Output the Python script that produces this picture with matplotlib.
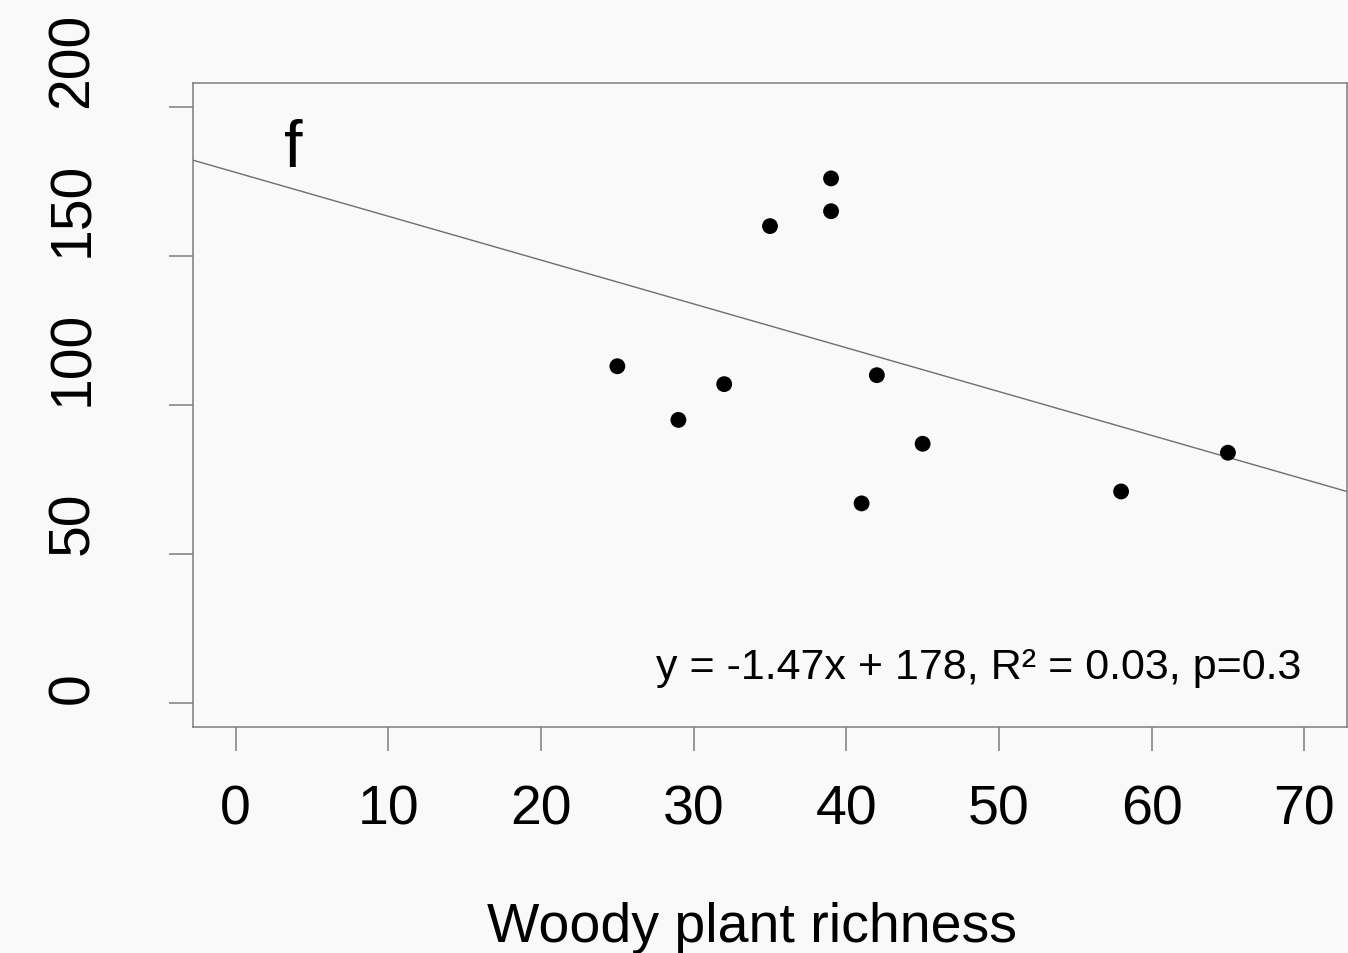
import matplotlib
matplotlib.use("Agg")
import matplotlib.pyplot as plt

# Site data: woody plant richness vs. response
richness = [25, 29, 32, 35, 39, 39, 41, 42, 45, 58, 65]
response = [113, 95, 107, 160, 176, 165, 67, 110, 87, 71, 84]

# Fitted linear model (as reported in the annotation)
slope = -1.47
intercept = 178
r_squared = 0.03
p_value = 0.3

x_ticks = [0, 10, 20, 30, 40, 50, 60, 70]
y_ticks = [0, 50, 100, 150, 200]
panel_label = "f"
x_label = "Woody plant richness"

plt.rcParams["font.family"] = ["Liberation Sans", "DejaVu Sans"]

W, H = 1348, 954
bg = "#f9f9f9"
frame = "#7d7d7d"

fig = plt.figure(figsize=(W / 100, H / 100), dpi=100, facecolor=bg)
ax = fig.add_axes([193 / W, (H - 728) / H, 1154 / W, 644 / H], facecolor=bg)

ax.set_xlim(-2.8, 72.8)
ax.set_ylim(-8, 208)

ax.scatter(richness, response, s=130, color="black", edgecolors="none", zorder=3)
ax.axline((0, intercept), slope=slope, color="#6e6e6e", linewidth=1.0, zorder=2)

for sp in ax.spines.values():
    sp.set_color(frame)
    sp.set_linewidth(1.1)

ax.set_xticks(x_ticks)
ax.set_xticklabels([str(v) for v in x_ticks])
ax.set_yticks(y_ticks)
ax.set_yticklabels([str(v) for v in y_ticks])

ax.tick_params(axis="both", direction="out", length=17.3, width=1.1,
               color=frame, labelsize=40, labelcolor="black")
ax.tick_params(axis="x", pad=23.5)
ax.tick_params(axis="y", pad=58.3, labelsize=41)
for lbl in ax.get_yticklabels():
    lbl.set_rotation(90)
    lbl.set_rotation_mode("anchor")
    lbl.set_ha("left")
    lbl.set_va("baseline")

ax.text(3.75, 180, panel_label, ha="center", va="baseline", fontsize=48)

eq = f"y = {slope}x + {intercept}, R\u00b2 = {r_squared}, p={p_value}"
ax.text(48.7, 8.5, eq, ha="center", va="baseline", fontsize=31)

ax.set_xlabel(x_label, fontsize=40, va="baseline")
ax.xaxis.set_label_coords((752 - 193) / 1154, (728 - 942) / 644)

fig.savefig("out.png", dpi=100, facecolor=bg)
